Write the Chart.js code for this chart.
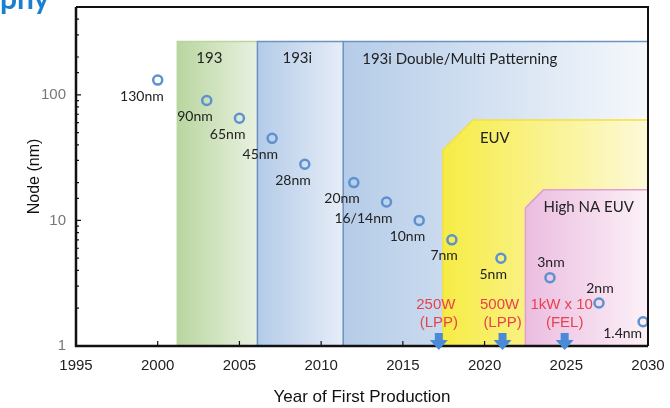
<!DOCTYPE html>
<html>
<head>
<meta charset="utf-8">
<script src="https://cdn.jsdelivr.net/npm/chart.js@4"></script>
<style>
  html, body { margin: 0; padding: 0; background: #fff; }
  #wrap { width: 670px; height: 408px; position: relative; }
</style>
</head>
<body>
<div id="wrap"><canvas id="nodeChart"></canvas></div>
<script>
// node roadmap data
const years = [2000, 2003, 2005, 2007, 2009, 2012, 2014, 2016, 2018, 2021, 2024, 2027, 2029.7];
const nodes = [131, 90, 65, 45, 28, 20, 14, 10, 7, 5, 3.5, 2.2, 1.56];
const nodeLabels = ["130nm", "90nm", "65nm", "45nm", "28nm", "20nm", "16/14nm", "10nm", "7nm", "5nm", "3nm", "2nm", "1.4nm"];
const labelSide = ["below", "below", "below", "below", "below", "below", "below", "below", "below", "below", "above", "above", "below"];

// lithography eras
const bandNames = ["193", "193i", "193i Double/Multi Patterning", "EUV", "High NA EUV"];
const bandStart = [2001.2, 2006.1, 2011.35, 2017.45, 2022.5];
const bandEnd = [2006.1, 2011.35, 2030, 2030, 2030];
const bandTop = [266, 266, 266, 63, 17.5];

// light source milestones
const sourceYears = [2017.2, 2021.1, 2024.9];
const sourcePower = ["250W", "500W", "1kW x 10"];
const sourceType = ["(LPP)", "(LPP)", "(FEL)"];

const xTicks = [1995, 2000, 2005, 2010, 2015, 2020, 2025, 2030];
const yTickLabels = [1, 10, 100];

// band looks
const bandStyle = [
  { from: "#b9d69f", to: "#e9f1e1", edge: "#b9d69f", bevel: 0, text: "center", dx: -8 },
  { from: "#b3cbe8", to: "#e6edf7", edge: "#6d93c4", bevel: 0, text: "center", dx: -3 },
  { from: "#b5cce8", to: "#f5f8fc", edge: "#6d93c4", bevel: 0, text: "left", dx: 19 },
  { from: "#f6ec45", to: "#fdf9d8", edge: "#f2e23c", bevel: 30, text: "left", dx: 37 },
  { from: "#ebbde0", to: "#fcf1f8", edge: "#e0a0d0", bevel: 18, text: "center", dx: 2 }
];

const bandsPlugin = {
  id: "bands",
  beforeDraw(chart) {
    const { ctx, scales: { x, y }, chartArea } = chart;
    ctx.save();
    for (let i = 0; i < bandNames.length; i++) {
      const st = bandStyle[i];
      const x0 = x.getPixelForValue(bandStart[i]);
      const x1 = x.getPixelForValue(bandEnd[i]);
      const y0 = y.getPixelForValue(bandTop[i]);
      const y1 = chartArea.bottom;
      const g = ctx.createLinearGradient(x0, 0, x1, 0);
      g.addColorStop(0, st.from);
      g.addColorStop(1, st.to);
      ctx.beginPath();
      ctx.moveTo(x0, y1);
      ctx.lineTo(x0, y0 + st.bevel);
      ctx.lineTo(x0 + st.bevel, y0);
      ctx.lineTo(x1, y0);
      ctx.lineTo(x1, y1);
      ctx.closePath();
      ctx.fillStyle = g;
      ctx.fill();
      // left + top edge
      ctx.beginPath();
      ctx.moveTo(x0, y1);
      ctx.lineTo(x0, y0 + st.bevel);
      ctx.lineTo(x0 + st.bevel, y0);
      ctx.lineTo(x1, y0);
      ctx.strokeStyle = st.edge;
      ctx.lineWidth = 1.5;
      ctx.stroke();

      ctx.fillStyle = "#222";
      ctx.font = "15px Lato";
      ctx.textBaseline = "middle";
      if (st.text === "center") {
        ctx.textAlign = "center";
        ctx.fillText(bandNames[i], (x0 + x1) / 2 + st.dx, y0 + 17);
      } else {
        ctx.textAlign = "left";
        ctx.fillText(bandNames[i], x0 + st.dx, y0 + 18);
      }
    }
    ctx.restore();
  },
  afterDraw(chart) {
    const { ctx, scales: { x, y }, chartArea } = chart;
    ctx.save();
    // frame
    ctx.strokeStyle = "#111";
    ctx.lineWidth = 2;
    ctx.beginPath();
    ctx.moveTo(chartArea.left, chartArea.top);
    ctx.lineTo(chartArea.right, chartArea.top);
    ctx.lineTo(chartArea.right, chartArea.bottom);
    ctx.stroke();
    ctx.lineWidth = 2.5;
    ctx.beginPath();
    ctx.moveTo(chartArea.left, chartArea.top);
    ctx.lineTo(chartArea.left, chartArea.bottom);
    ctx.lineTo(chartArea.right, chartArea.bottom);
    ctx.stroke();

    // inward ticks
    ctx.lineWidth = 1.2;
    ctx.beginPath();
    y.ticks.forEach(t => {
      const py = y.getPixelForValue(t.value);
      const major = yTickLabels.includes(t.value);
      ctx.moveTo(chartArea.left, py);
      ctx.lineTo(chartArea.left + (major ? 5 : 3), py);
    });
    xTicks.forEach(v => {
      const px = x.getPixelForValue(v);
      ctx.moveTo(px, chartArea.bottom);
      ctx.lineTo(px, chartArea.bottom - 5);
    });
    ctx.stroke();

    // tick labels
    ctx.font = "15px 'Liberation Sans'";
    ctx.textBaseline = "middle";
    ctx.fillStyle = "#777";
    ctx.textAlign = "right";
    yTickLabels.forEach(v => {
      ctx.fillText(String(v), chartArea.left - 10, y.getPixelForValue(v));
    });
    ctx.fillStyle = "#222";
    ctx.textAlign = "center";
    xTicks.forEach(v => {
      ctx.fillText(String(v), x.getPixelForValue(v), chartArea.bottom + 20);
    });

    // node labels
    const meta = chart.getDatasetMeta(0);
    ctx.fillStyle = "#222";
    ctx.font = "14px Lato";
    meta.data.forEach((pt, i) => {
      if (labelSide[i] === "above") {
        ctx.textAlign = "center";
        ctx.fillText(nodeLabels[i], pt.x + 1, pt.y - 15);
      } else if (i === nodes.length - 1) {
        ctx.textAlign = "right";
        ctx.fillText(nodeLabels[i], pt.x - 1, pt.y + 12);
      } else {
        ctx.textAlign = "right";
        ctx.fillText(nodeLabels[i], pt.x + 6, pt.y + 16);
      }
    });

    // source milestones + arrows
    sourceYears.forEach((yr, i) => {
      const px = x.getPixelForValue(yr);
      const b = chartArea.bottom;
      ctx.fillStyle = "#4a8ad6";
      ctx.beginPath();
      ctx.moveTo(px - 4, b - 13);
      ctx.lineTo(px + 4, b - 13);
      ctx.lineTo(px + 4, b - 6);
      ctx.lineTo(px + 9, b - 6);
      ctx.lineTo(px, b + 4);
      ctx.lineTo(px - 9, b - 6);
      ctx.lineTo(px - 4, b - 6);
      ctx.closePath();
      ctx.fill();
      ctx.fillStyle = "#e8424f";
      ctx.font = "15px 'Liberation Sans'";
      ctx.textAlign = "center";
      ctx.fillText(sourcePower[i], px - 3, b - 41);
      ctx.fillText(sourceType[i], px, b - 23);
    });

    // clipped page heading
    ctx.fillStyle = "#1b7fd1";
    ctx.font = "bold 30px Lato";
    ctx.textAlign = "left";
    ctx.textBaseline = "alphabetic";
    ctx.fillText("phy", 0, 9);
    ctx.restore();
  }
};

new Chart(document.getElementById("nodeChart"), {
  type: "scatter",
  data: {
    datasets: [{
      data: years.map((yr, i) => ({ x: yr, y: nodes[i] })),
      pointRadius: 4.5,
      pointBorderWidth: 2.5,
      pointBorderColor: "#5d91cf",
      pointBackgroundColor: "rgba(255,255,255,0)",
      showLine: false
    }]
  },
  options: {
    responsive: true,
    maintainAspectRatio: false,
    animation: false,
    layout: { padding: { top: 7, right: 22, left: 25, bottom: 0 } },
    plugins: { legend: { display: false }, tooltip: { enabled: false } },
    scales: {
      x: {
        type: "linear",
        min: 1995,
        max: 2030,
        afterBuildTicks: s => { s.ticks = xTicks.map(v => ({ value: v })); },
        ticks: { display: false },
        grid: { display: false, drawTicks: false },
        border: { display: false },
        title: { display: true, text: "Year of First Production", color: "#111", padding: { top: 8, bottom: 0 }, font: { family: "Liberation Sans", size: 17 } },
        afterFit: s => { s.height = 62; }
      },
      y: {
        type: "logarithmic",
        min: 1,
        max: 500,
        ticks: { display: false },
        grid: { display: false, drawTicks: false },
        border: { display: false },
        title: { display: true, text: "Node (nm)", color: "#111", padding: { top: 0, bottom: 0 }, font: { family: "Liberation Sans", size: 16 } },
        afterFit: s => { s.width = 51; }
      }
    }
  },
  plugins: [bandsPlugin]
});
</script>
</body>
</html>
